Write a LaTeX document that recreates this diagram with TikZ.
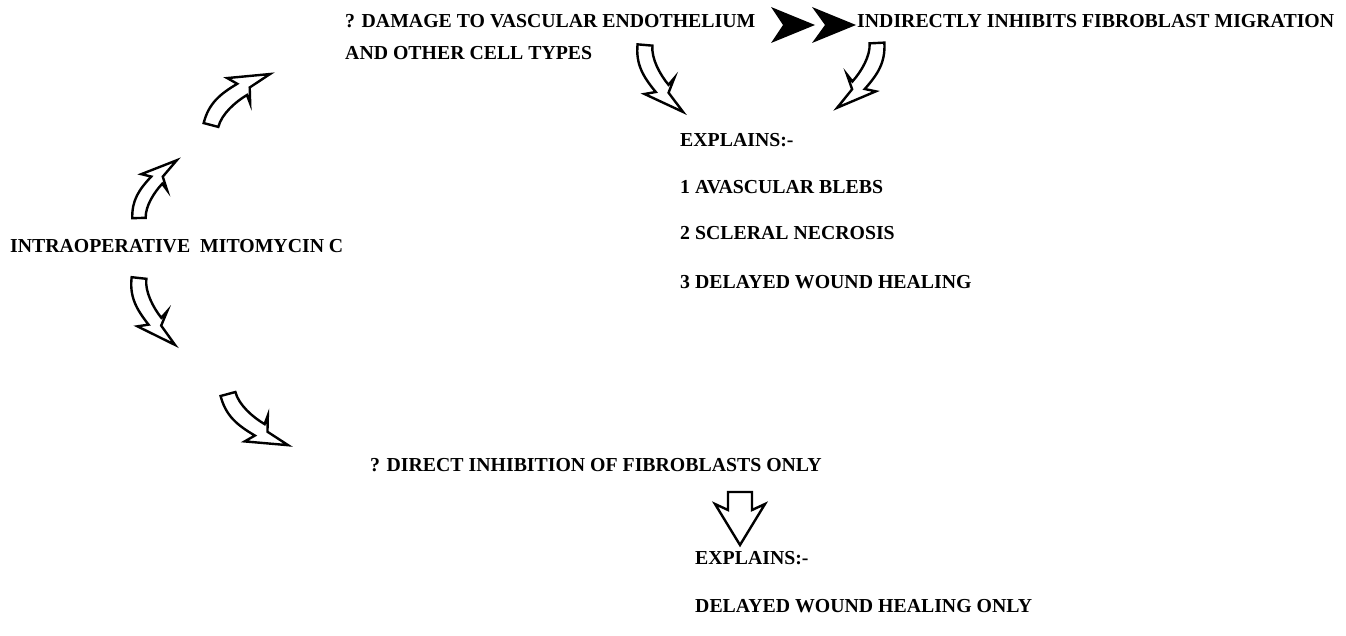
\documentclass[tikz,border=0pt]{standalone}
\usepackage{fontspec}
\setmainfont{Liberation Serif}
\begin{document}
\begin{tikzpicture}[x=1pt,y=-1pt,
    txt/.style={anchor=base west, inner sep=0pt, align=left,
                font=\bfseries\fontsize{19.8}{32}\selectfont},
    hollow/.style={draw=black, line width=2.4pt, fill=white, line join=miter},
    bentarrow/.pic={
        \draw[hollow] (0.055,0.080) .. controls (0.194,-0.018) and (0.433,-0.02) .. (0.60,0.01)
            -- (0.56,0.12) -- (0.69,-0.04) -- (1,0) -- (0.55,-0.32) -- (0.60,-0.18)
            .. controls (0.344,-0.225) and (0.158,-0.229) .. (-0.055,-0.080) -- cycle;
    }]
        \useasboundingbox (0,0) rectangle (1346,636);

        % text
        \node[txt] (dmg) at (345,60) {? DAMAGE TO VASCULAR ENDOTHELIUM\\AND OTHER CELL TYPES};
        \node[txt] (ind) at (857,28) {INDIRECTLY INHIBITS FIBROBLAST MIGRATION};
        \node[txt] (expa) at (680,147) {EXPLAINS:-};
        \node[txt] (blebs) at (680,194) {1 AVASCULAR BLEBS};
        \node[txt] (necr) at (680,240) {2 SCLERAL NECROSIS};
        \node[txt] (heal) at (680,288) {3 DELAYED WOUND HEALING};
        \node[txt] (mmc) at (10,253) {INTRAOPERATIVE\ \ MITOMYCIN C};
        \node[txt] (dir) at (370,471) {? DIRECT INHIBITION OF FIBROBLASTS ONLY};
        \node[txt] (expb) at (695,564) {EXPLAINS:-};
        \node[txt] (healonly) at (695,612) {DELAYED WOUND HEALING ONLY};

        % double chevron
        \fill (771,7) -- (815,25) -- (771,43) -- (783,25) -- cycle;
        \fill (812,7) -- (856,25) -- (812,43) -- (825,25) -- cycle;

        % curved block arrows
        \pic[rotate=40.8, scale=78] at (211,125) {bentarrow};
        \pic[rotate=56.8, scale=69] at (139,218) {bentarrow};
        \pic[rotate=-61.7, yscale=-1, scale=76] at (139,278) {bentarrow};
        \pic[rotate=-40.4, yscale=-1, scale=79] at (228,394) {bentarrow};
        \pic[rotate=-60.4, yscale=-1, scale=77] at (645,45) {bentarrow};
        \pic[rotate=-121.6, scale=76] at (877,43) {bentarrow};

        % straight block arrow
        \draw[hollow] (728,492) -- (752,492) -- (752,510) -- (765,504) -- (740,545)
            -- (715,504) -- (728,510) -- cycle;
\end{tikzpicture}
\end{document}
